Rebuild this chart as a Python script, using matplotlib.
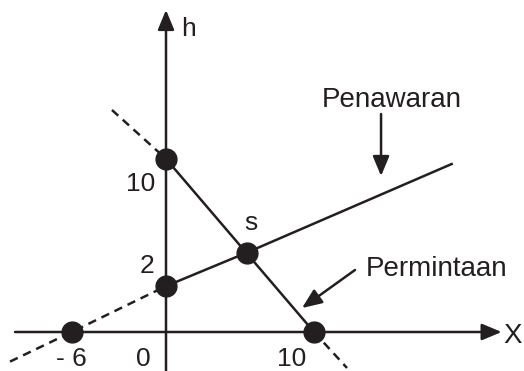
import matplotlib
matplotlib.use("Agg")
import matplotlib.pyplot as plt

INK = "#231f20"
plt.rcParams["font.family"] = ["Liberation Sans", "DejaVu Sans"]

# supply (Penawaran) curve: dashed part up to the h-axis, then solid
sup_x = [-10.54, -6.37, 0.0, 5.45, 19.3]
sup_y = [-2.0, 0.0, 3.1, 5.36, 11.35]

# demand (Permintaan) curve: dashed / solid / dashed
dem_x = [-3.65, 0.0, 10.0, 12.23]
dem_y = [15.0, 11.7, 0.0, -2.43]

# marked points: -6, 2, 10 (h), s, 10 (X)
pts_x = [-6.37, 0.0, 0.0, 5.45, 10.0]
pts_y = [0.0, 3.1, 11.7, 5.36, 0.0]

# tick-like labels
x_lbl_pos = [-6.42, -1.55, 8.51]
x_lbl_txt = ["- 6", "0", "10"]
y_lbl_pos = [9.55, 3.99]
y_lbl_x = [-1.69, -1.28]
y_lbl_txt = ["10", "2"]

fig = plt.figure(figsize=(5.24, 3.71), dpi=100)
ax = fig.add_axes([0, 0, 1, 1])
ax.set_xlim(-11.216, 24.189)
ax.set_ylim(-2.635, 22.432)
ax.axis("off")

lw = 1.8
arr = dict(arrowstyle="-|>,head_length=0.6,head_width=0.25", lw=lw,
           color=INK, shrinkA=0, shrinkB=0, mutation_scale=20)

# axes with arrows
ax.annotate("", xy=(22.68, 0), xytext=(-10.2, 0), arrowprops=arr)
ax.annotate("", xy=(0, 21.76), xytext=(0, -2.64), arrowprops=arr)

dash = (3.4, 2.4)
ax.plot(sup_x[:3], sup_y[:3], color=INK, lw=lw, dashes=dash)
ax.plot(sup_x[2:], sup_y[2:], color=INK, lw=lw)
ax.plot(dem_x[:2], dem_y[:2], color=INK, lw=lw, dashes=dash)
ax.plot(dem_x[1:3], dem_y[1:3], color=INK, lw=lw)
ax.plot(dem_x[2:], dem_y[2:], color=INK, lw=lw, dashes=dash)

ax.plot(pts_x, pts_y, "o", color=INK, markersize=15, zorder=5)

for x, t in zip(x_lbl_pos, x_lbl_txt):
    ax.text(x, -2.28, t, ha="center", va="baseline", fontsize=19, color=INK)
for x, y, t in zip(y_lbl_x, y_lbl_pos, y_lbl_txt):
    ax.text(x, y, t, ha="center", va="baseline", fontsize=19, color=INK)

ax.text(5.74, 6.89, "s", ha="center", va="baseline", fontsize=19, color=INK)
ax.text(1.49, 20.0, "h", ha="center", va="baseline", fontsize=19, color=INK)
ax.text(23.45, -0.74, "X", ha="center", va="baseline", fontsize=20, color=INK)

ax.text(10.54, 15.2, "Penawaran", ha="left", va="baseline", fontsize=20, color=INK)
ax.annotate("", xy=(14.53, 10.54), xytext=(14.53, 14.73), arrowprops=arr)

ax.text(13.51, 3.78, "Permintaan", ha="left", va="baseline", fontsize=20, color=INK)
ax.annotate("", xy=(9.19, 1.62), xytext=(12.77, 4.19), arrowprops=arr)

fig.savefig("out.png", dpi=100)
